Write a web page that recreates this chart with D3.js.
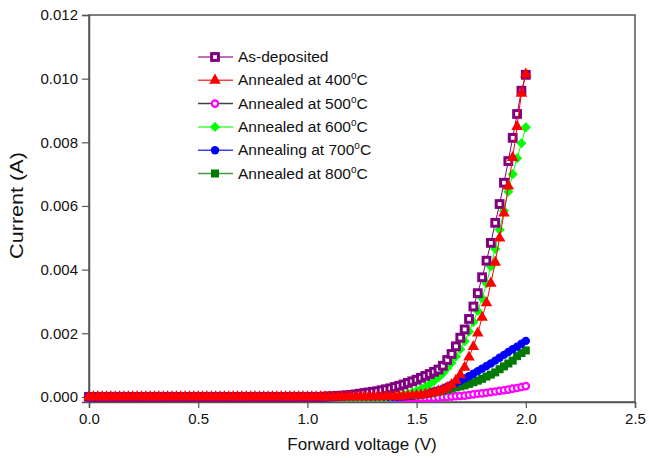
<!DOCTYPE html>
<html>
<head>
<meta charset="utf-8">
<script src="https://cdn.jsdelivr.net/npm/d3@7"></script>
<style>
  body { margin: 0; background: #fff; }
  text { font-family: "Liberation Sans", Arial, sans-serif; }
</style>
</head>
<body>
<script>
// forward voltage (V), 0.02 V steps
const voltage = [
  0.00, 0.02, 0.04, 0.06, 0.08, 0.10, 0.12, 0.14, 0.16, 0.18,
  0.20, 0.22, 0.24, 0.26, 0.28, 0.30, 0.32, 0.34, 0.36, 0.38,
  0.40, 0.42, 0.44, 0.46, 0.48, 0.50, 0.52, 0.54, 0.56, 0.58,
  0.60, 0.62, 0.64, 0.66, 0.68, 0.70, 0.72, 0.74, 0.76, 0.78,
  0.80, 0.82, 0.84, 0.86, 0.88, 0.90, 0.92, 0.94, 0.96, 0.98,
  1.00, 1.02, 1.04, 1.06, 1.08, 1.10, 1.12, 1.14, 1.16, 1.18,
  1.20, 1.22, 1.24, 1.26, 1.28, 1.30, 1.32, 1.34, 1.36, 1.38,
  1.40, 1.42, 1.44, 1.46, 1.48, 1.50, 1.52, 1.54, 1.56, 1.58,
  1.60, 1.62, 1.64, 1.66, 1.68, 1.70, 1.72, 1.74, 1.76, 1.78,
  1.80, 1.82, 1.84, 1.86, 1.88, 1.90, 1.92, 1.94, 1.96, 1.98,
  2.00
];

// currents in mA
const asDeposited = [
  0, 0, 0, 0, 0, 0, 0, 0, 0, 0,
  0, 0, 0, 0, 0, 0, 0, 0, 0, 0,
  0, 0, 0, 0, 0, 0, 0, 0, 0, 0,
  0, 0, 0, 0, 0, 0, 0, 0, 0, 0,
  0, 0, 0, 0, 0, 0, 0, 0, 0, 0,
  0, 0, 0, 0, 0.01, 0.015, 0.02, 0.03, 0.04, 0.05,
  0.06, 0.08, 0.10, 0.12, 0.14, 0.16, 0.18, 0.21, 0.24, 0.27,
  0.31, 0.35, 0.39, 0.44, 0.49, 0.54, 0.60, 0.66, 0.72, 0.79,
  0.86, 0.98, 1.16, 1.35, 1.59, 1.86, 2.12, 2.45, 2.84, 3.26,
  3.76, 4.28, 4.84, 5.47, 6.06, 6.73, 7.41, 8.14, 8.89, 9.62,
  10.12
];
const annealed400 = [
  0, 0, 0, 0, 0, 0, 0, 0, 0, 0,
  0, 0, 0, 0, 0, 0, 0, 0, 0, 0,
  0, 0, 0, 0, 0, 0, 0, 0, 0, 0,
  0, 0, 0, 0, 0, 0, 0, 0, 0, 0,
  0, 0, 0, 0, 0, 0, 0, 0, 0, 0,
  0, 0, 0, 0, 0, 0, 0, 0, 0, 0,
  0, 0, 0, 0, 0, 0, 0, 0, 0.005, 0.005,
  0.01, 0.015, 0.02, 0.03, 0.04, 0.05, 0.06, 0.08, 0.11, 0.14,
  0.18, 0.23, 0.29, 0.38, 0.52, 0.69, 0.93, 1.25, 1.58, 2.00,
  2.50, 2.95, 3.57, 4.23, 4.99, 5.77, 6.62, 7.52, 8.49, 9.54,
  10.14
];
const annealed500 = [
  0, 0, 0, 0, 0, 0, 0, 0, 0, 0,
  0, 0, 0, 0, 0, 0, 0, 0, 0, 0,
  0, 0, 0, 0, 0, 0, 0, 0, 0, 0,
  0, 0, 0, 0, 0, 0, 0, 0, 0, 0,
  0, 0, 0, 0, 0, 0, 0, 0, 0, 0,
  0, 0, 0, 0, 0, 0, 0, 0, 0, 0,
  0, 0, 0, 0, 0, 0, 0, 0, 0, 0,
  -0.03, -0.03, -0.03, -0.03, -0.03, -0.03, -0.03, -0.03, -0.03, -0.03,
  -0.02, -0.01, 0.0, 0.01, 0.02, 0.03, 0.04, 0.06, 0.08, 0.10,
  0.11, 0.13, 0.15, 0.17, 0.19, 0.21, 0.23, 0.26, 0.28, 0.31,
  0.34
];
const annealed600 = [
  0, 0, 0, 0, 0, 0, 0, 0, 0, 0,
  0, 0, 0, 0, 0, 0, 0, 0, 0, 0,
  0, 0, 0, 0, 0, 0, 0, 0, 0, 0,
  0, 0, 0, 0, 0, 0, 0, 0, 0, 0,
  0, 0, 0, 0, 0, 0, 0, 0, 0, 0,
  0, 0, 0, 0, 0, 0, 0, 0, 0, 0,
  0, 0, 0, 0, 0, 0, 0, 0, 0.01, 0.02,
  0.03, 0.05, 0.07, 0.10, 0.14, 0.19, 0.25, 0.32, 0.40, 0.50,
  0.61, 0.74, 0.90, 1.07, 1.27, 1.50, 1.75, 2.05, 2.35, 2.70,
  3.10, 3.57, 4.10, 4.65, 5.25, 5.85, 6.45, 7.00, 7.50, 7.97,
  8.47
];
const annealed700 = [
  0, 0, 0, 0, 0, 0, 0, 0, 0, 0,
  0, 0, 0, 0, 0, 0, 0, 0, 0, 0,
  0, 0, 0, 0, 0, 0, 0, 0, 0, 0,
  0, 0, 0, 0, 0, 0, 0, 0, 0, 0,
  0, 0, 0, 0, 0, 0, 0, 0, 0, 0,
  0, 0, 0, 0, 0, 0, 0, 0, 0, 0,
  0, 0, 0, 0, 0, 0, 0, 0, 0, 0,
  0, 0.01, 0.02, 0.03, 0.04, 0.06, 0.08, 0.10, 0.13, 0.17,
  0.21, 0.26, 0.32, 0.38, 0.44, 0.51, 0.58, 0.65, 0.73, 0.81,
  0.89, 0.97, 1.05, 1.14, 1.23, 1.32, 1.41, 1.50, 1.58, 1.67,
  1.76
];
const annealed800 = [
  0, 0, 0, 0, 0, 0, 0, 0, 0, 0,
  0, 0, 0, 0, 0, 0, 0, 0, 0, 0,
  0, 0, 0, 0, 0, 0, 0, 0, 0, 0,
  0, 0, 0, 0, 0, 0, 0, 0, 0, 0,
  0, 0, 0, 0, 0, 0, 0, 0, 0, 0,
  0, 0, 0, 0, 0, 0, 0, 0, 0, 0,
  0, 0, 0, 0, 0, 0, 0, 0, 0, 0,
  0, 0.01, 0.02, 0.03, 0.04, 0.05, 0.07, 0.09, 0.11, 0.14,
  0.17, 0.20, 0.23, 0.26, 0.30, 0.33, 0.36, 0.41, 0.46, 0.51,
  0.57, 0.64, 0.70, 0.77, 0.87, 0.96, 1.05, 1.14, 1.28, 1.38,
  1.46
];

const xTicks = [0, 0.5, 1.0, 1.5, 2.0, 2.5];
const yTicks = [0, 0.002, 0.004, 0.006, 0.008, 0.010, 0.012];

var series = [
  { label: 'As-deposited', temp: null, values: asDeposited, color: '#800080', line: '#800080', shape: 'openSquare' },
  { label: 'Annealed at 400', temp: true, values: annealed400, color: '#ff0000', line: '#ff0000', shape: 'triangle' },
  { label: 'Annealed at 500', temp: true, values: annealed500, color: '#ff00ff', line: '#000000', shape: 'openCircle' },
  { label: 'Annealed at 600', temp: true, values: annealed600, color: '#00ff00', line: '#00ff00', shape: 'diamond' },
  { label: 'Annealing at 700', temp: true, values: annealed700, color: '#0000ff', line: '#0000ff', shape: 'circle' },
  { label: 'Annealed at 800', temp: true, values: annealed800, color: '#007a00', line: '#007a00', shape: 'square' }
];

var margin = { top: 15, right: 14, bottom: 56, left: 89 },
    width = 649 - margin.left - margin.right,
    height = 458 - margin.top - margin.bottom;

var svg = d3.select('body').append('svg')
  .attr('width', 649)
  .attr('height', 458)
  .append('g')
  .attr('transform', 'translate(' + margin.left + ',' + margin.top + ')');

var x = d3.scaleLinear().domain([0, 2.5]).range([0, width]);
var y = d3.scaleLinear().domain([-0.00016, 0.012]).range([height, 0]);

var axisColor = '#555';

// frame
svg.append('rect')
  .attr('width', width)
  .attr('height', height)
  .attr('fill', 'none')
  .attr('stroke', axisColor)
  .attr('stroke-width', 1.5);

var xAxis = svg.append('g')
  .attr('transform', 'translate(0,' + height + ')')
  .call(d3.axisBottom(x).tickValues(xTicks).tickFormat(d3.format('.1f')).tickSize(6).tickPadding(5));
var yAxis = svg.append('g')
  .call(d3.axisLeft(y).tickValues(yTicks).tickFormat(d3.format('.3f')).tickSize(7).tickPadding(4));

[xAxis, yAxis].forEach(function(a) {
  a.select('.domain').attr('stroke', axisColor).attr('stroke-width', 1.5);
  a.selectAll('.tick line').attr('stroke', axisColor).attr('stroke-width', 1.2);
  a.selectAll('.tick text')
    .attr('fill', '#111')
    .style('font-size', '15px')
    .style('font-family', '"Liberation Sans", Arial, sans-serif');
});

svg.append('text')
  .attr('x', width / 2)
  .attr('y', height + 48)
  .attr('text-anchor', 'middle')
  .style('font-size', '17px')
  .attr('fill', '#111')
  .text('Forward voltage (V)');

svg.append('text')
  .attr('transform', 'translate(' + (-66) + ',' + (height / 2 - 3) + ') rotate(-90) scale(1.2,1)')
  .attr('text-anchor', 'middle')
  .style('font-size', '18px')
  .attr('fill', '#111')
  .text('Current (A)');

function drawMarker(sel, shape, color) {
  if (shape === 'openSquare') {
    sel.append('rect').attr('x', -3.4).attr('y', -3.4).attr('width', 6.8).attr('height', 6.8)
      .attr('fill', '#fff').attr('stroke', color).attr('stroke-width', 3);
  } else if (shape === 'triangle') {
    sel.append('path').attr('d', d3.symbol(d3.symbolTriangle, 58)()).attr('fill', color);
  } else if (shape === 'openCircle') {
    sel.append('circle').attr('r', 3.2).attr('fill', '#fff').attr('stroke', color).attr('stroke-width', 2.2);
  } else if (shape === 'diamond') {
    sel.append('rect').attr('x', -3.6).attr('y', -3.6).attr('width', 7.2).attr('height', 7.2)
      .attr('transform', 'rotate(45)').attr('fill', color);
  } else if (shape === 'circle') {
    sel.append('circle').attr('r', 4.2).attr('fill', color);
  } else if (shape === 'square') {
    sel.append('rect').attr('x', -4).attr('y', -4).attr('width', 8).attr('height', 8).attr('fill', color);
  }
}

var line = d3.line()
  .x(function(d, i) { return x(voltage[i]); })
  .y(function(d) { return y(d / 1000); });

// draw order: later ones on top
var order = [2, 5, 4, 3, 0, 1];
var plot = svg.append('g');
order.forEach(function(k) {
  var s = series[k];
  var g = plot.append('g');
  g.append('path')
    .datum(s.values)
    .attr('fill', 'none')
    .attr('stroke', s.line)
    .attr('stroke-width', 1)
    .attr('d', line);
  g.selectAll('.pt')
    .data(s.values)
    .enter().append('g')
    .attr('transform', function(d, i) { return 'translate(' + x(voltage[i]) + ',' + y(d / 1000) + ')'; })
    .each(function() { drawMarker(d3.select(this), s.shape, s.color); });
});

// legend
var legend = svg.selectAll('.legend')
  .data(series)
  .enter().append('g')
  .attr('transform', function(d, i) { return 'translate(' + (198 - margin.left) + ',' + (57 + i * 23.3 - margin.top) + ')'; });

legend.append('line')
  .attr('x1', 0).attr('x2', 35)
  .attr('stroke', function(d) { return d.line; })
  .attr('stroke-opacity', 0.75)
  .attr('stroke-width', 1.5);

legend.append('g')
  .attr('transform', 'translate(17,0)')
  .each(function(d) { drawMarker(d3.select(this), d.shape, d.color); });

var lt = legend.append('text')
  .attr('x', 40)
  .attr('y', 5)
  .style('font-size', '15.5px')
  .attr('fill', '#111');
lt.append('tspan').text(function(d) { return d.label; });
lt.filter(function(d) { return d.temp; }).append('tspan')
  .attr('dy', -6).style('font-size', '10px').text('o');
lt.filter(function(d) { return d.temp; }).append('tspan')
  .attr('dy', 6).text('C');
</script>
</body>
</html>
